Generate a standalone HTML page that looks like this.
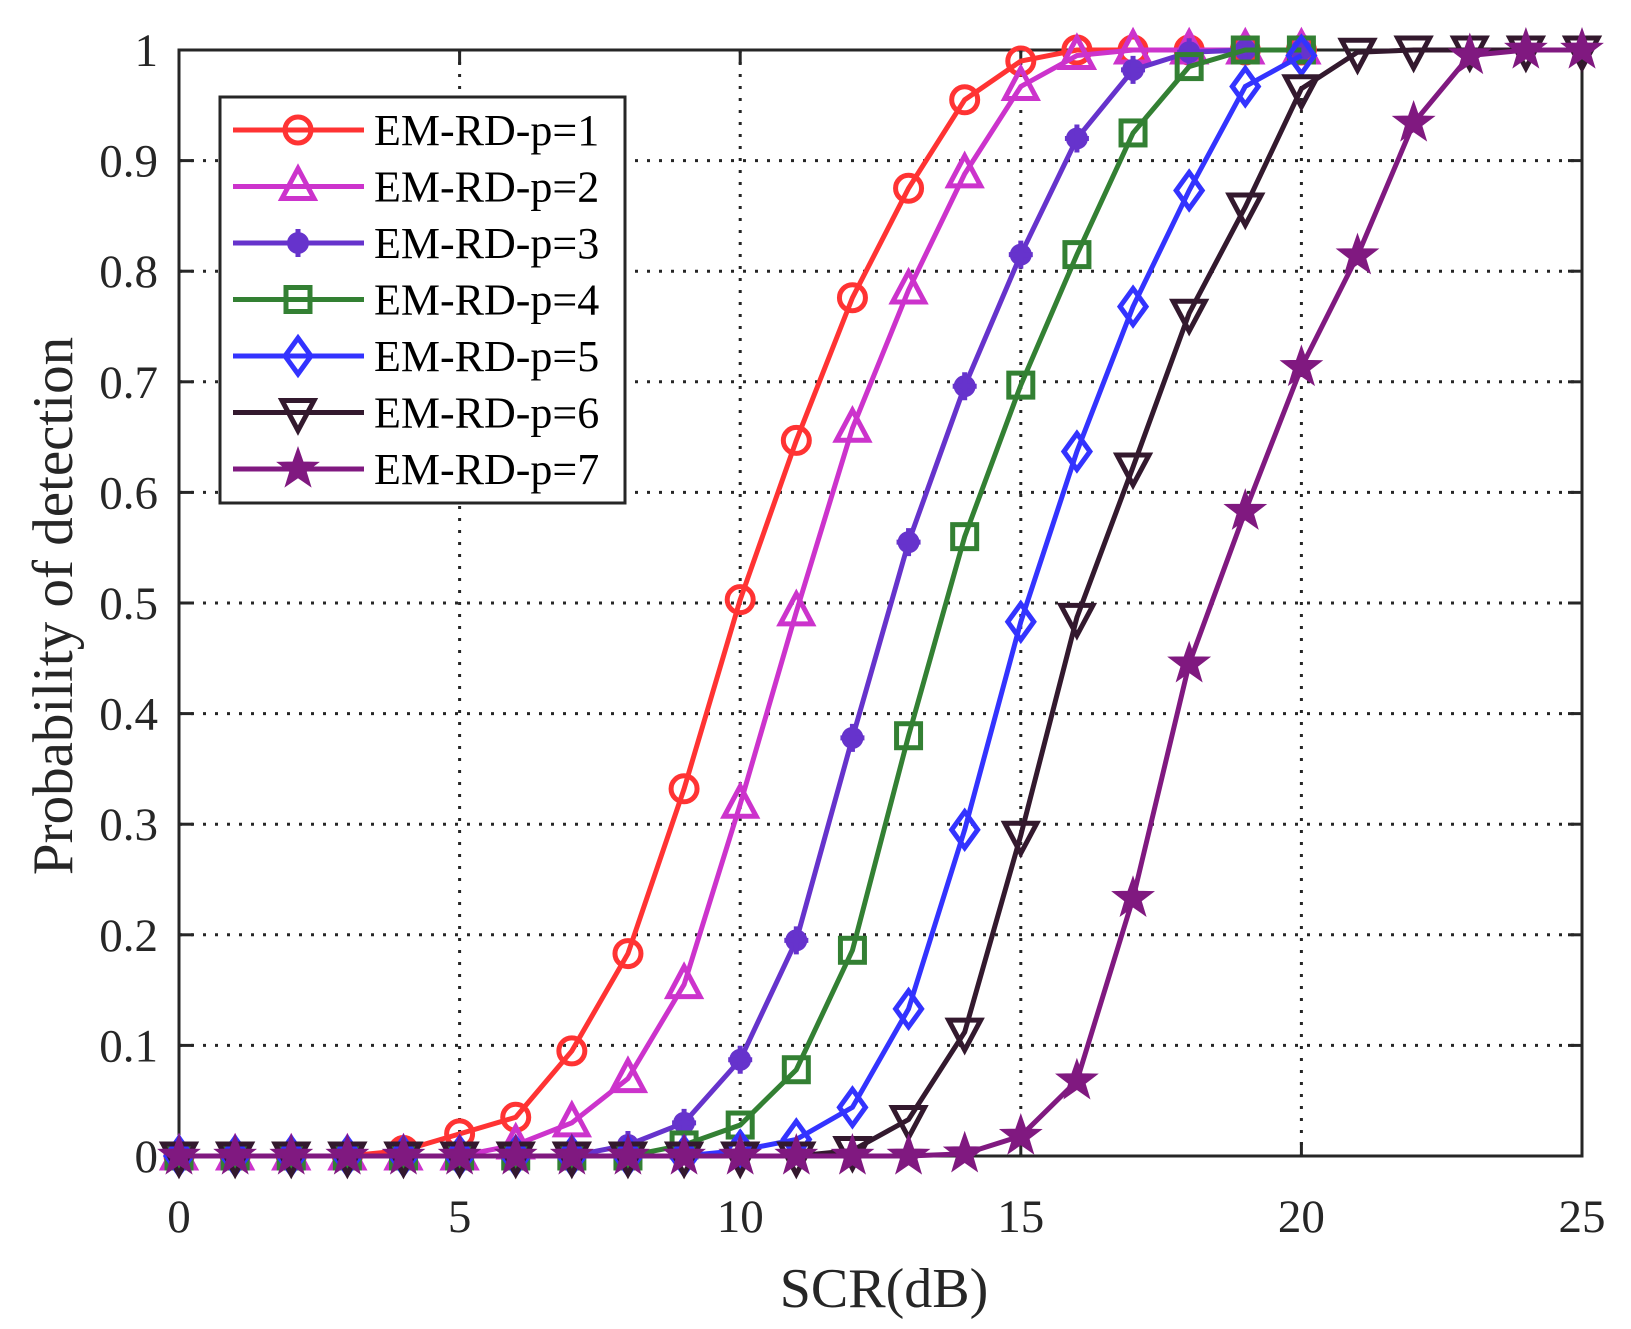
<!DOCTYPE html>
<html><head><meta charset="utf-8"><style>
html,body{margin:0;padding:0;background:#fff}
svg{display:block;font-family:"Liberation Serif",serif}
</style></head><body>
<svg id="s" width="1631" height="1329" viewBox="0 0 1631 1329" xmlns="http://www.w3.org/2000/svg"></svg>
<script>
const L=179,R=1582,T=50,B=1156;
const X=v=>L+(R-L)*v/25, Y=v=>B-(B-T)*v;
let h='';
for(let i=1;i<5;i++){h+=`<line x1="${X(i*5)}" y1="${T}" x2="${X(i*5)}" y2="${B}" stroke="#262626" stroke-width="3" stroke-dasharray="3,9"/>`;}
for(let i=1;i<10;i++){h+=`<line x1="${L}" y1="${Y(i/10)}" x2="${R}" y2="${Y(i/10)}" stroke="#262626" stroke-width="3" stroke-dasharray="3,9"/>`;}
for(let i=0;i<=5;i++){const x=X(i*5);h+=`<line x1="${x}" y1="${B}" x2="${x}" y2="${B-14}" stroke="#262626" stroke-width="3"/><line x1="${x}" y1="${T}" x2="${x}" y2="${T+14}" stroke="#262626" stroke-width="3"/>`;
h+=`<text x="${x}" y="1232" font-size="47" text-anchor="middle" fill="#262626">${i*5}</text>`;}
for(let i=0;i<=10;i++){const y=Y(i/10);h+=`<line x1="${L}" y1="${y}" x2="${L+14}" y2="${y}" stroke="#262626" stroke-width="3"/><line x1="${R}" y1="${y}" x2="${R-14}" y2="${y}" stroke="#262626" stroke-width="3"/>`;
let t=i==0?'0':i==10?'1':'0.'+i;h+=`<text x="158" y="${y+16}" font-size="47" text-anchor="end" fill="#262626">${t}</text>`;}
h+=`<rect x="${L}" y="${T}" width="${R-L}" height="${B-T}" fill="none" stroke="#262626" stroke-width="3"/>`;
h+=`<text x="884" y="1307" font-size="56" text-anchor="middle" fill="#262626">SCR(dB)</text>`;
h+=`<text transform="translate(72,606) rotate(-90)" font-size="57" text-anchor="middle" fill="#262626">Probability of detection</text>`;
const S=[
['#ff3333','o',[0,0,0,0,.005,.02,.035,.095,.183,.332,.503,.647,.776,.875,.955,.99,1,1,1,1,1]],
['#cc33cc','^',[0,0,0,0,0,0,.01,.03,.07,.155,.318,.492,.658,.783,.888,.967,.995,1,1,1,1]],
['#6633cc','*',[0,0,0,0,0,0,0,0,.01,.03,.087,.195,.378,.555,.696,.815,.92,.982,.998,1,1]],
['#338033','s',[0,0,0,0,0,0,0,0,0,.01,.028,.078,.186,.38,.56,.697,.815,.925,.985,1,1]],
['#3333ff','d',[0,0,0,0,0,0,0,0,0,0,.005,.015,.044,.133,.295,.483,.637,.768,.873,.967,.995]],
['#33192e','v',[0,0,0,0,0,0,0,0,0,0,0,0,.005,.033,.112,.29,.487,.623,.762,.858,.965,.998,1,1,1,1]],
['#801980','p',[0,0,0,0,0,0,0,0,0,0,0,0,0,0,.002,.018,.068,.233,.445,.583,.713,.814,.934,.995,1,1]]];
function mk(t,x,y,c){
 if(t=='o')return `<circle cx="${x}" cy="${y}" r="13" fill="none" stroke="${c}" stroke-width="5"/>`;
 if(t=='^')return `<polygon points="${x},${y-18} ${x+16},${y+12} ${x-16},${y+12}" fill="none" stroke="${c}" stroke-width="5"/>`;
 if(t=='v')return `<polygon points="${x},${y+18} ${x+16},${y-12} ${x-16},${y-12}" fill="none" stroke="${c}" stroke-width="5"/>`;
 if(t=='s')return `<rect x="${x-12}" y="${y-12}" width="24" height="24" fill="none" stroke="${c}" stroke-width="5"/>`;
 if(t=='d')return `<polygon points="${x},${y-18} ${x+13},${y} ${x},${y+18} ${x-13},${y}" fill="none" stroke="${c}" stroke-width="5"/>`;
 if(t=='*')return `<circle cx="${x}" cy="${y}" r="11" fill="${c}"/><path d="M${x} ${y-14}V${y+14}M${x-12} ${y}H${x+12}" stroke="${c}" stroke-width="5"/>`;
 let p=[];for(let k=0;k<10;k++){const r=k%2?8:20,a=-Math.PI/2+k*Math.PI/5;p.push((x+r*Math.cos(a)).toFixed(1)+','+(y+r*Math.sin(a)).toFixed(1));}
 return `<polygon points="${p.join(' ')}" fill="${c}" stroke="${c}" stroke-width="2"/>`;
}
S.forEach(([c,t,d])=>{h+=`<polyline fill="none" stroke="${c}" stroke-width="5" points="${d.map((v,i)=>X(i)+','+Y(v)).join(' ')}"/>`;d.forEach((v,i)=>h+=mk(t,X(i),Y(v),c));});
h+=`<rect x="220" y="97" width="405" height="406" fill="#fff" stroke="#262626" stroke-width="3"/>`;
S.forEach(([c,t],i)=>{const y=130+i*56.5;h+=`<line x1="233" y1="${y}" x2="364" y2="${y}" stroke="${c}" stroke-width="5"/>`+mk(t,298,y,c)+`<text x="374" y="${y+15}" font-size="44" fill="#000">EM-RD-p=${i+1}</text>`;});
document.getElementById('s').innerHTML=h;
</script>
</body></html>
